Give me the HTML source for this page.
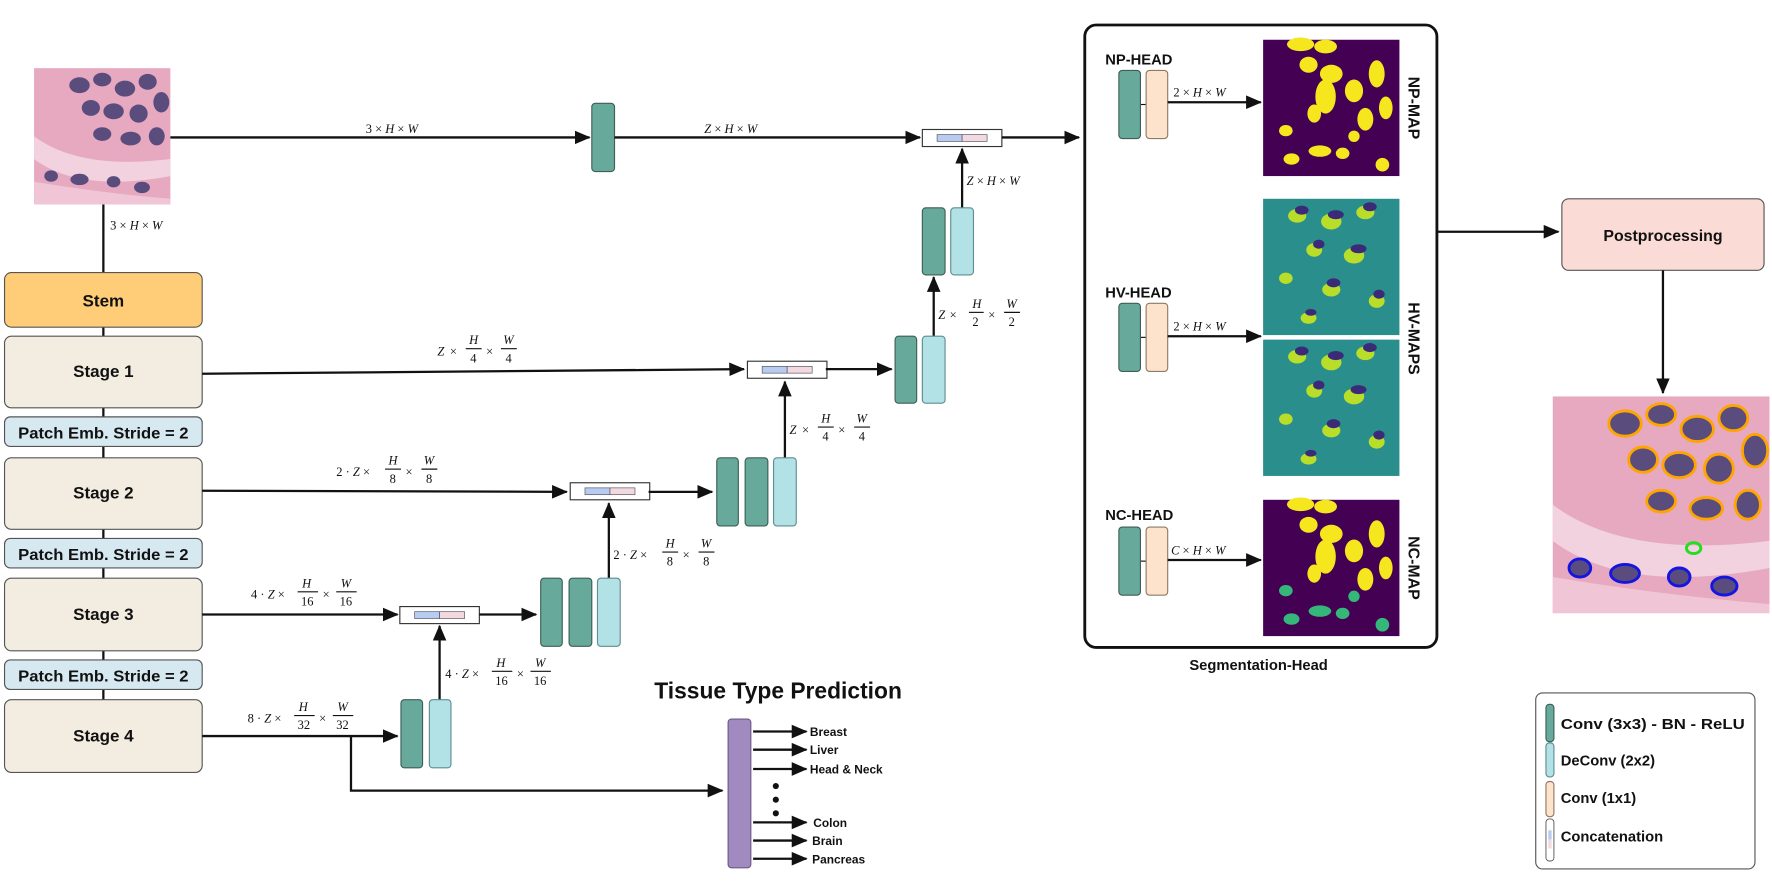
<!DOCTYPE html>
<html><head><meta charset="utf-8"><style>
html,body{margin:0;padding:0;background:#fff;}
svg{display:block;}
.b{font-family:"Liberation Sans",sans-serif;font-weight:bold;fill:#111;}
.m{font-family:"Liberation Serif",serif;font-size:11px;fill:#111;}
.i{font-style:italic;}
.ln{stroke:#111;stroke-width:2;fill:none;}
.tl{fill:#67A99A;stroke:#3d5f57;stroke-width:1;}
.cy{fill:#B3E2E6;stroke:#5f8d91;stroke-width:1;}
.pc{fill:#FDE3CB;stroke:#8f7a66;stroke-width:1;}
</style></head><body>
<svg width="1772" height="886" viewBox="0 0 1560 780" xmlns="http://www.w3.org/2000/svg">
<defs>
<marker id="A" markerWidth="14" markerHeight="12" refX="13" refY="6" orient="auto" markerUnits="userSpaceOnUse"><path d="M0,0 L14,6 L0,12 z" fill="#111"/></marker>
<g id="cat"><rect x="0" y="0" width="70" height="15" fill="#fff" stroke="#333" stroke-width="1"/><rect x="13" y="4.5" width="22" height="6" fill="#B8CCF2" stroke="#556" stroke-width="0.6"/><rect x="35" y="4.5" width="22" height="6" fill="#F3D9DE" stroke="#556" stroke-width="0.6"/></g>
<g id="tissue">
<rect width="120" height="120" fill="#E6A9C0"/>
<path d="M0,60 Q40,90 120,80 L120,95 Q40,110 0,80z" fill="#F2D2DE"/>
<path d="M0,100 Q60,110 120,115 L120,120 L0,120z" fill="#F0C6D6"/>
<g fill="#5B4C7E">
<ellipse cx="40" cy="15" rx="9" ry="7"/><ellipse cx="60" cy="10" rx="8" ry="6"/><ellipse cx="80" cy="18" rx="9" ry="7"/><ellipse cx="100" cy="12" rx="8" ry="7"/>
<ellipse cx="50" cy="35" rx="8" ry="7"/><ellipse cx="70" cy="38" rx="9" ry="7"/><ellipse cx="92" cy="40" rx="8" ry="8"/><ellipse cx="112" cy="30" rx="7" ry="9"/>
<ellipse cx="60" cy="58" rx="8" ry="6"/><ellipse cx="85" cy="62" rx="9" ry="6"/><ellipse cx="108" cy="60" rx="7" ry="8"/>
<ellipse cx="15" cy="95" rx="6" ry="5"/><ellipse cx="40" cy="98" rx="8" ry="5"/><ellipse cx="70" cy="100" rx="6" ry="5"/><ellipse cx="95" cy="105" rx="7" ry="5"/>
</g></g>
<g id="npm">
<rect width="120" height="120" fill="#440154"/>
<g fill="#F5E61E">
<ellipse cx="33" cy="4" rx="12" ry="6"/><ellipse cx="55" cy="6" rx="10" ry="6"/><ellipse cx="40" cy="22" rx="8" ry="7"/><ellipse cx="60" cy="30" rx="10" ry="8"/>
<ellipse cx="55" cy="50" rx="9" ry="15"/><ellipse cx="80" cy="45" rx="8" ry="10"/><ellipse cx="100" cy="30" rx="7" ry="12"/><ellipse cx="108" cy="60" rx="6" ry="10"/>
<ellipse cx="45" cy="65" rx="6" ry="8"/><ellipse cx="90" cy="70" rx="7" ry="10"/><ellipse cx="20" cy="80" rx="6" ry="5"/>
<ellipse cx="50" cy="98" rx="10" ry="5"/><ellipse cx="70" cy="100" rx="6" ry="5"/><ellipse cx="25" cy="105" rx="7" ry="5"/><ellipse cx="105" cy="110" rx="6" ry="6"/><ellipse cx="80" cy="85" rx="5" ry="5"/>
</g></g>
<g id="hvm">
<rect width="120" height="120" fill="#2A8E8C"/>
<g fill="#B8DE29"><ellipse cx="30" cy="15" rx="8" ry="6"/><ellipse cx="60" cy="20" rx="9" ry="7"/><ellipse cx="90" cy="12" rx="8" ry="6"/><ellipse cx="45" cy="45" rx="7" ry="6"/><ellipse cx="80" cy="50" rx="9" ry="7"/><ellipse cx="20" cy="70" rx="6" ry="5"/><ellipse cx="60" cy="80" rx="8" ry="6"/><ellipse cx="100" cy="90" rx="7" ry="6"/><ellipse cx="40" cy="105" rx="7" ry="5"/></g>
<g fill="#3B2A78"><ellipse cx="34" cy="10" rx="6" ry="4"/><ellipse cx="64" cy="14" rx="7" ry="4"/><ellipse cx="94" cy="7" rx="6" ry="4"/><ellipse cx="49" cy="40" rx="5" ry="4"/><ellipse cx="84" cy="44" rx="7" ry="4"/><ellipse cx="62" cy="74" rx="6" ry="4"/><ellipse cx="102" cy="84" rx="5" ry="4"/><ellipse cx="42" cy="100" rx="5" ry="3"/></g>
</g>
</defs>

<use href="#tissue" x="30" y="60"/>
<line class="ln" x1="91" y1="180" x2="91" y2="616" stroke-width="2.5"/>
<text class="m" x="97" y="202"><tspan>3 × </tspan><tspan class="i">H</tspan> × <tspan class="i">W</tspan></text>

<rect x="4" y="240" width="174" height="48" rx="6" fill="#FFCC77" stroke="#555" stroke-width="1"/>
<text class="b" x="91" y="270" font-size="15" text-anchor="middle">Stem</text>
<g fill="#F3EDE1" stroke="#555" stroke-width="1">
<rect x="4" y="296" width="174" height="63" rx="6"/><rect x="4" y="403" width="174" height="63" rx="6"/><rect x="4" y="509" width="174" height="64" rx="6"/><rect x="4" y="616" width="174" height="64" rx="6"/>
</g>
<g fill="#D6E8F0" stroke="#555" stroke-width="1">
<rect x="4" y="367" width="174" height="26" rx="5"/><rect x="4" y="474" width="174" height="26" rx="5"/><rect x="4" y="581" width="174" height="26" rx="5"/>
</g>
<g class="b" font-size="15" text-anchor="middle">
<text x="91" y="332">Stage 1</text><text x="91" y="439">Stage 2</text><text x="91" y="546">Stage 3</text><text x="91" y="653">Stage 4</text>
<text x="91" y="386" textLength="150" lengthAdjust="spacingAndGlyphs" font-size="14">Patch Emb. Stride = 2</text>
<text x="91" y="493" textLength="150" lengthAdjust="spacingAndGlyphs" font-size="14">Patch Emb. Stride = 2</text>
<text x="91" y="600" textLength="150" lengthAdjust="spacingAndGlyphs" font-size="14">Patch Emb. Stride = 2</text>
</g>

<line class="ln" x1="150" y1="121" x2="519" y2="121" marker-end="url(#A)"/>
<text class="m" x="322" y="117">3 × <tspan class="i">H</tspan> × <tspan class="i">W</tspan></text>
<rect class="tl" x="521" y="91" width="20" height="60" rx="3"/>
<line class="ln" x1="541" y1="121" x2="810" y2="121" marker-end="url(#A)"/>
<text class="m" x="620" y="117"><tspan class="i">Z</tspan> × <tspan class="i">H</tspan> × <tspan class="i">W</tspan></text>
<use href="#cat" x="812" y="114"/>
<line class="ln" x1="882" y1="121" x2="950" y2="121" marker-end="url(#A)"/>

<line class="ln" x1="847" y1="183" x2="847" y2="131" marker-end="url(#A)"/>
<text class="m" x="851" y="163"><tspan class="i">Z</tspan> × <tspan class="i">H</tspan> × <tspan class="i">W</tspan></text>
<rect class="tl" x="812" y="183" width="20" height="59" rx="3"/><rect class="cy" x="837" y="183" width="20" height="59" rx="3"/>
<line class="ln" x1="822" y1="296" x2="822" y2="244" marker-end="url(#A)"/>
<g class="m"><text x="826" y="281" class="i">Z</text><text x="836" y="281">×</text><text x="856" y="271" class="i">H</text><line x1="853" y1="275" x2="866" y2="275" stroke="#111"/><text x="856" y="287">2</text><text x="870" y="281">×</text><text x="886" y="271" class="i">W</text><line x1="884" y1="275" x2="898" y2="275" stroke="#111"/><text x="888" y="287">2</text></g>
<rect class="tl" x="788" y="296" width="19" height="59" rx="3"/><rect class="cy" x="812" y="296" width="20" height="59" rx="3"/>

<line class="ln" x1="178" y1="329" x2="655" y2="325" marker-end="url(#A)"/>
<g class="m"><text x="385" y="313" class="i">Z</text><text x="396" y="313">×</text><text x="413" y="303" class="i">H</text><line x1="410" y1="307" x2="424" y2="307" stroke="#111"/><text x="414" y="319">4</text><text x="428" y="313">×</text><text x="443" y="303" class="i">W</text><line x1="441" y1="307" x2="455" y2="307" stroke="#111"/><text x="445" y="319">4</text></g>
<use href="#cat" x="658" y="318"/>
<line class="ln" x1="727" y1="325" x2="785" y2="325" marker-end="url(#A)"/>

<line class="ln" x1="691" y1="403" x2="691" y2="336" marker-end="url(#A)"/>
<g class="m"><text x="695" y="382" class="i">Z</text><text x="706" y="382">×</text><text x="723" y="372" class="i">H</text><line x1="720" y1="376" x2="734" y2="376" stroke="#111"/><text x="724" y="388">4</text><text x="738" y="382">×</text><text x="754" y="372" class="i">W</text><line x1="752" y1="376" x2="766" y2="376" stroke="#111"/><text x="756" y="388">4</text></g>
<rect class="tl" x="631" y="403" width="19" height="60" rx="3"/><rect class="tl" x="656" y="403" width="20" height="60" rx="3"/><rect class="cy" x="681" y="403" width="20" height="60" rx="3"/>

<line class="ln" x1="178" y1="432" x2="499" y2="433" marker-end="url(#A)"/>
<g class="m"><text x="296" y="419">2 · <tspan class="i">Z</tspan> ×</text><text x="342" y="409" class="i">H</text><line x1="339" y1="413" x2="353" y2="413" stroke="#111"/><text x="343" y="425">8</text><text x="357" y="419">×</text><text x="373" y="409" class="i">W</text><line x1="371" y1="413" x2="385" y2="413" stroke="#111"/><text x="375" y="425">8</text></g>
<use href="#cat" x="502" y="425"/>
<line class="ln" x1="571" y1="433" x2="627" y2="433" marker-end="url(#A)"/>

<line class="ln" x1="536" y1="509" x2="536" y2="443" marker-end="url(#A)"/>
<g class="m"><text x="540" y="492">2 · <tspan class="i">Z</tspan> ×</text><text x="586" y="482" class="i">H</text><line x1="583" y1="486" x2="597" y2="486" stroke="#111"/><text x="587" y="498">8</text><text x="601" y="492">×</text><text x="617" y="482" class="i">W</text><line x1="615" y1="486" x2="629" y2="486" stroke="#111"/><text x="619" y="498">8</text></g>
<rect class="tl" x="476" y="509" width="19" height="60" rx="3"/><rect class="tl" x="501" y="509" width="20" height="60" rx="3"/><rect class="cy" x="526" y="509" width="20" height="60" rx="3"/>

<line class="ln" x1="178" y1="541" x2="350" y2="541" marker-end="url(#A)"/>
<g class="m"><text x="221" y="527">4 · <tspan class="i">Z</tspan> ×</text><text x="266" y="517" class="i">H</text><line x1="262" y1="521" x2="280" y2="521" stroke="#111"/><text x="265" y="533">16</text><text x="284" y="527">×</text><text x="300" y="517" class="i">W</text><line x1="296" y1="521" x2="314" y2="521" stroke="#111"/><text x="299" y="533">16</text></g>
<use href="#cat" x="352" y="534"/>
<line class="ln" x1="422" y1="541" x2="472" y2="541" marker-end="url(#A)"/>

<line class="ln" x1="387" y1="616" x2="387" y2="551" marker-end="url(#A)"/>
<g class="m"><text x="392" y="597">4 · <tspan class="i">Z</tspan> ×</text><text x="437" y="587" class="i">H</text><line x1="433" y1="591" x2="451" y2="591" stroke="#111"/><text x="436" y="603">16</text><text x="455" y="597">×</text><text x="471" y="587" class="i">W</text><line x1="467" y1="591" x2="485" y2="591" stroke="#111"/><text x="470" y="603">16</text></g>
<rect class="tl" x="353" y="616" width="19" height="60" rx="3"/><rect class="cy" x="378" y="616" width="19" height="60" rx="3"/>

<line class="ln" x1="178" y1="648" x2="350" y2="648" marker-end="url(#A)"/>
<g class="m"><text x="218" y="636">8 · <tspan class="i">Z</tspan> ×</text><text x="263" y="626" class="i">H</text><line x1="259" y1="630" x2="277" y2="630" stroke="#111"/><text x="262" y="642">32</text><text x="281" y="636">×</text><text x="297" y="626" class="i">W</text><line x1="293" y1="630" x2="311" y2="630" stroke="#111"/><text x="296" y="642">32</text></g>
<polyline class="ln" points="309,648 309,696 636,696" marker-end="url(#A)"/>

<text class="b" x="685" y="615" font-size="20" text-anchor="middle" textLength="218" lengthAdjust="spacingAndGlyphs">Tissue Type Prediction</text>
<rect x="641" y="633" width="20" height="131" rx="3" fill="#A08ABF" stroke="#6b5a85" stroke-width="1"/>
<g class="ln"><line x1="663" y1="644" x2="710" y2="644" marker-end="url(#A)"/><line x1="663" y1="660" x2="710" y2="660" marker-end="url(#A)"/><line x1="663" y1="677" x2="710" y2="677" marker-end="url(#A)"/><line x1="663" y1="724" x2="710" y2="724" marker-end="url(#A)"/><line x1="663" y1="740" x2="710" y2="740" marker-end="url(#A)"/><line x1="663" y1="756" x2="710" y2="756" marker-end="url(#A)"/></g>
<g fill="#111"><circle cx="683" cy="692" r="2.7"/><circle cx="683" cy="704" r="2.7"/><circle cx="683" cy="716" r="2.7"/></g>
<g class="b" font-size="10.5"><text x="713" y="648">Breast</text><text x="713" y="664">Liver</text><text x="713" y="681">Head &amp; Neck</text><text x="716" y="728">Colon</text><text x="715" y="744">Brain</text><text x="715" y="760">Pancreas</text></g>

<rect x="955" y="22" width="310" height="548" rx="10" fill="none" stroke="#111" stroke-width="2.5"/>
<text class="b" x="1108" y="590" font-size="13" text-anchor="middle">Segmentation-Head</text>
<g class="b" font-size="13"><text x="973" y="57">NP-HEAD</text><text x="973" y="262">HV-HEAD</text><text x="973" y="458">NC-HEAD</text></g>
<line x1="1004" y1="92" x2="1009" y2="92" stroke="#111"/><line x1="1004" y1="297" x2="1009" y2="297" stroke="#111"/><line x1="1004" y1="494" x2="1009" y2="494" stroke="#111"/>
<rect class="tl" x="985" y="62" width="19" height="60" rx="3"/><rect class="pc" x="1009" y="62" width="19" height="60" rx="3"/>
<rect class="tl" x="985" y="267" width="19" height="60" rx="3"/><rect class="pc" x="1009" y="267" width="19" height="60" rx="3"/>
<rect class="tl" x="985" y="464" width="19" height="60" rx="3"/><rect class="pc" x="1009" y="464" width="19" height="60" rx="3"/>
<line class="ln" x1="1028" y1="90" x2="1110" y2="90" marker-end="url(#A)"/>
<line class="ln" x1="1028" y1="296" x2="1110" y2="296" marker-end="url(#A)"/>
<line class="ln" x1="1028" y1="493" x2="1110" y2="493" marker-end="url(#A)"/>
<text class="m" x="1033" y="85">2 × <tspan class="i">H</tspan> × <tspan class="i">W</tspan></text>
<text class="m" x="1033" y="291">2 × <tspan class="i">H</tspan> × <tspan class="i">W</tspan></text>
<text class="m" x="1031" y="488"><tspan class="i">C</tspan> × <tspan class="i">H</tspan> × <tspan class="i">W</tspan></text>
<use href="#npm" x="1112" y="35"/>
<use href="#hvm" x="1112" y="175"/>
<use href="#hvm" x="1112" y="299"/>
<g transform="translate(1112,440)"><rect width="120" height="120" fill="#440154"/><g fill="#F5E61E"><ellipse cx="33" cy="4" rx="12" ry="6"/><ellipse cx="55" cy="6" rx="10" ry="6"/><ellipse cx="40" cy="22" rx="8" ry="7"/><ellipse cx="60" cy="30" rx="10" ry="8"/><ellipse cx="55" cy="50" rx="9" ry="15"/><ellipse cx="80" cy="45" rx="8" ry="10"/><ellipse cx="100" cy="30" rx="7" ry="12"/><ellipse cx="108" cy="60" rx="6" ry="10"/><ellipse cx="45" cy="65" rx="6" ry="8"/><ellipse cx="90" cy="70" rx="7" ry="10"/></g><g fill="#35B779"><ellipse cx="20" cy="80" rx="6" ry="5"/><ellipse cx="50" cy="98" rx="10" ry="5"/><ellipse cx="70" cy="100" rx="6" ry="5"/><ellipse cx="25" cy="105" rx="7" ry="5"/><ellipse cx="105" cy="110" rx="6" ry="6"/><ellipse cx="80" cy="85" rx="5" ry="5"/></g></g>
<g class="b" font-size="14" text-anchor="middle"><text transform="translate(1240,95) rotate(90)">NP-MAP</text><text transform="translate(1240,298) rotate(90)">HV-MAPS</text><text transform="translate(1240,500) rotate(90)">NC-MAP</text></g>

<line class="ln" x1="1265" y1="204" x2="1372" y2="204" marker-end="url(#A)"/>
<rect x="1375" y="175" width="178" height="63" rx="6" fill="#FADBD6" stroke="#555" stroke-width="1"/>
<text class="b" x="1464" y="212" font-size="14" text-anchor="middle">Postprocessing</text>
<line class="ln" x1="1464" y1="238" x2="1464" y2="346" marker-end="url(#A)"/>
<g transform="translate(1367,349) scale(1.59)"><use href="#tissue"/>
<g fill="none" stroke="#FFA500" stroke-width="1.6"><ellipse cx="40" cy="15" rx="9" ry="7"/><ellipse cx="60" cy="10" rx="8" ry="6"/><ellipse cx="80" cy="18" rx="9" ry="7"/><ellipse cx="100" cy="12" rx="8" ry="7"/><ellipse cx="50" cy="35" rx="8" ry="7"/><ellipse cx="70" cy="38" rx="9" ry="7"/><ellipse cx="92" cy="40" rx="8" ry="8"/><ellipse cx="112" cy="30" rx="7" ry="9"/><ellipse cx="60" cy="58" rx="8" ry="6"/><ellipse cx="85" cy="62" rx="9" ry="6"/><ellipse cx="108" cy="60" rx="7" ry="8"/></g>
<g fill="none" stroke="#1515E0" stroke-width="1.6"><ellipse cx="15" cy="95" rx="6" ry="5"/><ellipse cx="40" cy="98" rx="8" ry="5"/><ellipse cx="70" cy="100" rx="6" ry="5"/><ellipse cx="95" cy="105" rx="7" ry="5"/></g>
<ellipse cx="78" cy="84" rx="4" ry="3" fill="none" stroke="#22DD22" stroke-width="1.6"/></g>

<rect x="1352" y="610" width="193" height="155" rx="6" fill="#fff" stroke="#555" stroke-width="1"/>
<rect class="tl" x="1361" y="620" width="7" height="33" rx="3"/>
<rect class="cy" x="1361" y="654" width="7" height="30" rx="3"/>
<rect class="pc" x="1361" y="688" width="7" height="31" rx="3"/>
<rect x="1361" y="721" width="7" height="37" rx="3" fill="#fff" stroke="#555" stroke-width="0.8"/><rect x="1363" y="731" width="3" height="8" fill="#B8CCF2"/><rect x="1363" y="739" width="3" height="8" fill="#F3D9DE"/>
<g class="b" font-size="13"><text x="1374" y="642" textLength="162" lengthAdjust="spacingAndGlyphs">Conv (3x3) - BN - ReLU</text><text x="1374" y="674">DeConv (2x2)</text><text x="1374" y="707">Conv (1x1)</text><text x="1374" y="741">Concatenation</text></g>
</svg>
</body></html>
